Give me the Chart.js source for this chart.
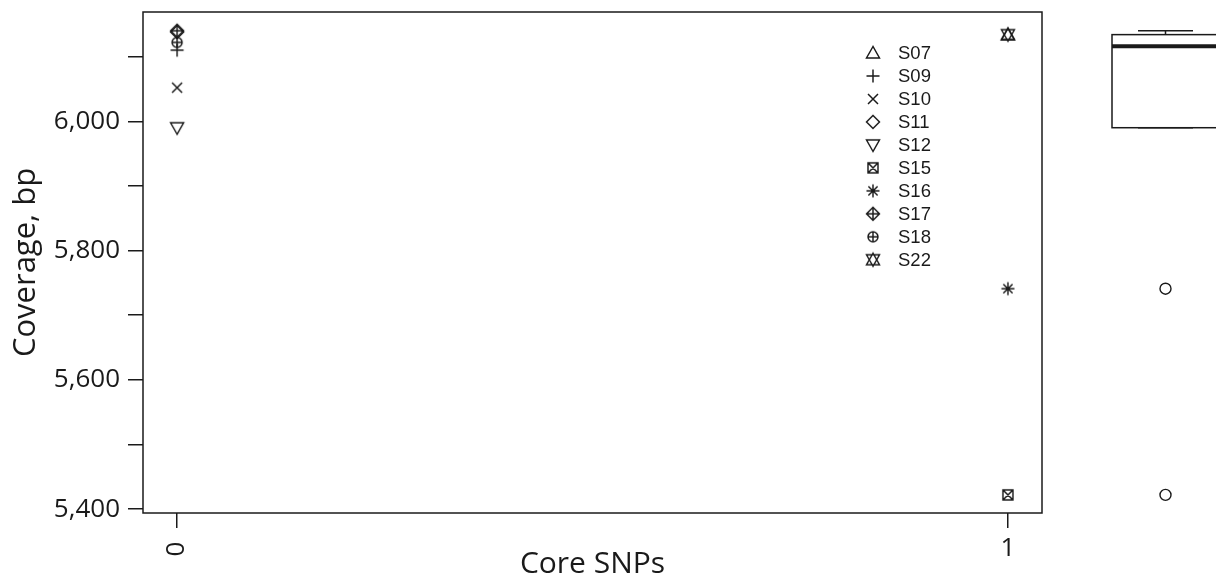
<!DOCTYPE html>
<html>
<head>
<meta charset="utf-8">
<script src="https://cdn.jsdelivr.net/npm/chart.js@4.4.1/dist/chart.umd.min.js"></script>
<style>
  html, body { margin: 0; padding: 0; background: #fff; }
  #wrap { width: 1216px; height: 582px; position: relative; }
</style>
</head>
<body>
<div id="wrap"><canvas id="coverageChart"></canvas></div>
<script>
// --- DATA ---
const sampleNames = ['S07', 'S09', 'S10', 'S11', 'S12', 'S15', 'S16', 'S17', 'S18', 'S22'];
const coreSnps    = [1, 0, 0, 0, 0, 1, 1, 0, 0, 1];
const coverage    = [6134, 6110, 6052, 6138, 5990, 5422, 5741, 6140, 6122, 6134];
const symbolKinds = ['triUp', 'plus', 'cross', 'diamond', 'triDown', 'boxX', 'asterisk', 'diamondPlus', 'circlePlus', 'davidStar'];
const xTickLabels = ['0', '1'];
const yLabelTicks = [5400, 5600, 5800, 6000];

const INK = '#1a1a1a';
const AXIS_FONT = '"Open Sans", "Noto Sans", sans-serif';

// R-like plotting symbols drawn into small canvases, used as pointStyle
function makeSymbol(kind) {
    const size = 20;
    const c = document.createElement('canvas');
    c.width = size; c.height = size;
    const g = c.getContext('2d');
    const m = size / 2;
    g.strokeStyle = INK;
    g.lineWidth = 1.45;
    g.beginPath();
    const tri = (dir) => {
        g.moveTo(m, m - 6.5 * dir);
        g.lineTo(m - 6.5, m + 5 * dir);
        g.lineTo(m + 6.5, m + 5 * dir);
        g.closePath();
    };
    const plus = (r) => { g.moveTo(m - r, m); g.lineTo(m + r, m); g.moveTo(m, m - r); g.lineTo(m, m + r); };
    const xmark = (r) => { g.moveTo(m - r, m - r); g.lineTo(m + r, m + r); g.moveTo(m - r, m + r); g.lineTo(m + r, m - r); };
    const diamond = (r) => { g.moveTo(m, m - r); g.lineTo(m + r, m); g.lineTo(m, m + r); g.lineTo(m - r, m); g.closePath(); };
    switch (kind) {
        case 'triUp': tri(1); break;
        case 'triDown': tri(-1); break;
        case 'davidStar': tri(1); tri(-1); break;
        case 'plus': plus(6.5); break;
        case 'cross': xmark(5); break;
        case 'diamond': diamond(6.5); break;
        case 'diamondPlus': diamond(6.5); plus(6.5); break;
        case 'boxX': g.rect(m - 5, m - 5, 10, 10); xmark(5); break;
        case 'asterisk': plus(6.5); xmark(4.6); break;
        case 'circlePlus': g.moveTo(m + 5, m); g.arc(m, m, 5, 0, Math.PI * 2); plus(5); break;
    }
    g.stroke();
    return c;
}
const symbols = symbolKinds.map(makeSymbol);

const datasets = sampleNames.map((name, i) => ({
    label: name,
    data: [{ x: coreSnps[i], y: coverage[i] }],
    pointStyle: symbols[i],
    pointRadius: 8,
    pointHoverRadius: 8
}));

// frame around the plot region
const framePlugin = {
    id: 'frame',
    beforeDatasetsDraw(chart) {
        const { ctx, chartArea: a } = chart;
        ctx.save();
        ctx.strokeStyle = INK;
        ctx.lineWidth = 1.5;
        ctx.strokeRect(a.left, a.top, a.right - a.left, a.bottom - a.top);
        ctx.restore();
    }
};

// x tick labels: the first one is drawn sideways, as in the original
const xLabelPlugin = {
    id: 'xLabels',
    afterDraw(chart) {
        const { ctx, scales: { x }, chartArea: a } = chart;
        ctx.save();
        ctx.fillStyle = INK;
        ctx.font = '26px ' + AXIS_FONT;
        ctx.textAlign = 'center';
        ctx.textBaseline = 'middle';
        xTickLabels.forEach((lab, i) => {
            const px = x.getPixelForValue(i);
            ctx.save();
            ctx.translate(px, a.bottom + 36);
            if (i === 0) ctx.rotate(-Math.PI / 2);
            ctx.fillText(lab, 0, 0);
            ctx.restore();
        });
        ctx.restore();
    }
};

// legend in the upper right of the plot
const legendPlugin = {
    id: 'innerLegend',
    afterDraw(chart) {
        const { ctx, chartArea: a } = chart;
        const x0 = a.right - 169, y0 = a.top + 41, step = 22.97;
        ctx.save();
        ctx.fillStyle = INK;
        ctx.font = '18.5px "Liberation Sans", Arial, sans-serif';
        ctx.textBaseline = 'middle';
        sampleNames.forEach((name, i) => {
            const y = y0 + i * step;
            ctx.drawImage(symbols[i], x0 - 10, y - 10);
            ctx.fillText(name, x0 + 25, y + 1);
        });
        ctx.restore();
    }
};

// boxplot of all coverage values, to the right of the plot, on the same y scale
function fivenum(vals) {
    const s = [...vals].sort((a, b) => a - b);
    const n = s.length;
    const n4 = Math.floor((n + 3) / 2) / 2;
    const d = [1, n4, (n + 1) / 2, n + 1 - n4, n];
    return d.map(k => 0.5 * (s[Math.floor(k) - 1] + s[Math.ceil(k) - 1]));
}
const boxPlugin = {
    id: 'sideBox',
    afterDraw(chart) {
        const { ctx, scales: { y }, chartArea: a } = chart;
        const f = fivenum(coverage);
        const iqr = f[3] - f[1];
        const lo = Math.min(...coverage.filter(v => v >= f[1] - 1.5 * iqr));
        const hi = Math.max(...coverage.filter(v => v <= f[3] + 1.5 * iqr));
        const outliers = coverage.filter(v => v < lo || v > hi);
        const cx = a.right + 123.5, hw = 53.5, cw = 27.5;
        const py = v => y.getPixelForValue(v);
        ctx.save();
        ctx.strokeStyle = INK;
        ctx.lineWidth = 1.5;
        ctx.strokeRect(cx - hw, py(f[3]), hw * 2, py(f[1]) - py(f[3]));
        ctx.beginPath();
        ctx.moveTo(cx, py(f[3])); ctx.lineTo(cx, py(hi));
        ctx.moveTo(cx - cw, py(hi)); ctx.lineTo(cx + cw, py(hi));
        ctx.moveTo(cx, py(f[1])); ctx.lineTo(cx, py(lo));
        ctx.moveTo(cx - cw, py(lo)); ctx.lineTo(cx + cw, py(lo));
        ctx.stroke();
        ctx.lineWidth = 4;
        ctx.beginPath();
        ctx.moveTo(cx - hw, py(f[2])); ctx.lineTo(cx + hw, py(f[2]));
        ctx.stroke();
        ctx.lineWidth = 1.4;
        outliers.forEach(v => {
            ctx.beginPath();
            ctx.arc(cx, py(v), 5.5, 0, Math.PI * 2);
            ctx.stroke();
        });
        ctx.restore();
    }
};

const ctx = document.getElementById('coverageChart').getContext('2d');
new Chart(ctx, {
    type: 'scatter',
    data: { datasets },
    options: {
        responsive: true,
        maintainAspectRatio: false,
        animation: false,
        layout: { padding: { top: 12, right: 174, bottom: 0, left: 0 } },
        plugins: { legend: { display: false }, tooltip: { enabled: false } },
        scales: {
            x: {
                type: 'linear',
                min: -0.041, max: 1.041,
                afterFit: (s) => { s.height = 69; s.paddingLeft = 0; s.paddingRight = 0; },
                border: { display: false },
                grid: { drawOnChartArea: false, drawTicks: true, tickLength: 15, color: INK, lineWidth: 1.5 },
                ticks: { stepSize: 1, includeBounds: false, callback: () => '' },
                title: {
                    display: true, text: 'Core SNPs', color: INK,
                    font: { family: AXIS_FONT, size: 30 }, padding: { top: 0, bottom: 0 }
                }
            },
            y: {
                type: 'linear',
                min: 5394, max: 6169,
                // tick labels should not push the plot area down
                afterFit: (s) => { s.width = 143; s.paddingTop = 0; s.paddingBottom = 0; },
                border: { display: false },
                grid: { drawOnChartArea: false, drawTicks: true, tickLength: 15, color: INK, lineWidth: 1.5 },
                ticks: {
                    stepSize: 100, includeBounds: false, color: INK, padding: 8,
                    font: { family: AXIS_FONT, size: 26 },
                    callback: (v) => yLabelTicks.includes(v) ? v.toLocaleString('en-US') : ''
                },
                title: {
                    display: true, text: 'Coverage, bp', color: INK,
                    font: { family: AXIS_FONT, size: 31 }, padding: { top: 8, bottom: 0 }
                }
            }
        }
    },
    plugins: [framePlugin, xLabelPlugin, legendPlugin, boxPlugin]
});
</script>
</body>
</html>
